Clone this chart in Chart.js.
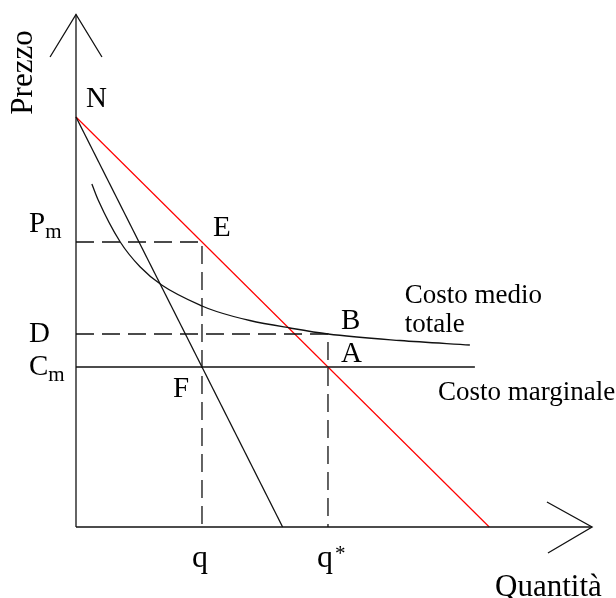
<!DOCTYPE html>
<html>
<head>
<meta charset="utf-8">
<script src="https://cdn.jsdelivr.net/npm/chart.js@4"></script>
<style>
  html, body { margin: 0; padding: 0; background: #fff; }
  #wrap { width: 616px; height: 598px; }
</style>
</head>
<body>
<div id="wrap"><canvas id="monopoly-chart"></canvas></div>
<script>
// Quantity / price levels of the monopoly diagram
const qMonopoly = 5;      // q
const qCompetitive = 10;  // q*
const priceMonopoly = 11.4;   // Pm
const avgCostAtQStar = 7.72;  // D
const marginalCost = 6.4;     // Cm

// Demand (red) and marginal revenue
const demandQ = [0, 16.4];
const demandP = [16.4, 0];
const revenueQ = [0, 8.2];
const revenueP = [16.4, 0];

// Average total cost curve, read point by point
const avgCostQ = [0.63, 0.88, 1.75, 2.54, 3.40, 5.0, 5.58, 6.90, 8.49, 10.0, 12.86, 15.63];
const avgCostP = [13.72, 13.08, 11.41, 10.41, 9.68, 8.84, 8.62, 8.26, 7.96, 7.72, 7.46, 7.28];

// Flat marginal cost runs out to here
const marginalCostEnd = 15.83;

// Axis lengths
const axisTopP = 20.5;
const axisRightQ = 20.48;

const pts = (xs, ys) => xs.map((x, i) => ({ x: x, y: ys[i] }));

function line(data, color, dash, width) {
  return {
    data: data,
    showLine: true,
    borderColor: color,
    borderWidth: width || 1.3,
    borderDash: dash || [],
    pointRadius: 0,
    fill: false,
    tension: 0
  };
}

const dashed = [18, 8];
const ink = '#111';

const datasets = [
  // axes with arrow heads
  line([{ x: 0, y: 0 }, { x: 0, y: axisTopP }], ink),
  line([{ x: -1.03, y: 18.8 }, { x: 0, y: axisTopP }, { x: 1.03, y: 18.8 }], ink),
  line([{ x: 0, y: 0 }, { x: axisRightQ, y: 0 }], ink),
  line([{ x: 18.69, y: 1.0 }, { x: axisRightQ, y: 0 }, { x: 18.73, y: -1.04 }], ink),
  // guide lines
  line([{ x: 0, y: priceMonopoly }, { x: qMonopoly, y: priceMonopoly }, { x: qMonopoly, y: 0 }], ink, dashed),
  line([{ x: 0, y: avgCostAtQStar }, { x: qCompetitive, y: avgCostAtQStar }, { x: qCompetitive, y: 0 }], ink, dashed),
  // marginal cost
  line([{ x: 0, y: marginalCost }, { x: marginalCostEnd, y: marginalCost }], ink),
  // marginal revenue
  line(pts(revenueQ, revenueP), ink),
  // average total cost
  Object.assign(line(pts(avgCostQ, avgCostP), ink), { cubicInterpolationMode: 'monotone' }),
  // demand
  line(pts(demandQ, demandP), '#ff0000', [], 1.2)
];

// Letters and captions, anchored on chart values with a pixel nudge
const labels = [
  { text: 'N', x: 0, y: 16.4, dx: 10, dy: -10 },
  { text: 'E', x: qMonopoly, y: priceMonopoly, dx: 11, dy: -6 },
  { text: 'B', x: qCompetitive, y: avgCostAtQStar, dx: 13, dy: -5 },
  { text: 'A', x: qCompetitive, y: marginalCost, dx: 13, dy: -5 },
  { text: 'F', x: qMonopoly, y: marginalCost, dx: -29, dy: 30 },
  { text: 'P', sub: 'm', x: 0, y: priceMonopoly, dx: -47, dy: -10 },
  { text: 'D', x: 0, y: avgCostAtQStar, dx: -47, dy: 8 },
  { text: 'C', sub: 'm', x: 0, y: marginalCost, dx: -47, dy: 8 },
  { text: 'q', x: qMonopoly, y: 0, dx: -10, dy: 40, size: 32 },
  { text: 'q', sup: '*', x: qCompetitive, y: 0, dx: -11, dy: 40, size: 32 },
  { text: 'Costo medio', x: 15.63, y: 7.28, dx: -65, dy: -42, size: 27 },
  { text: 'totale', x: 15.63, y: 7.28, dx: -65, dy: -13, size: 27 },
  { text: 'Costo marginale', x: marginalCostEnd, y: marginalCost, dx: -37, dy: 33, size: 27 },
  { text: 'Quantità', x: axisRightQ, y: 0, dx: -97, dy: 69, size: 31 }
];

const serif = "'Liberation Serif', 'Times New Roman', serif";

const labelPlugin = {
  id: 'diagramLabels',
  afterDatasetsDraw(chart) {
    const { ctx, scales } = chart;
    ctx.save();
    ctx.fillStyle = '#000';
    ctx.textBaseline = 'alphabetic';
    ctx.textAlign = 'left';
    labels.forEach(l => {
      const size = l.size || 29;
      const px = scales.x.getPixelForValue(l.x) + l.dx;
      const py = scales.y.getPixelForValue(l.y) + l.dy;
      ctx.font = size + 'px ' + serif;
      ctx.fillText(l.text, px, py);
      const w = ctx.measureText(l.text).width;
      if (l.sub) {
        ctx.font = '21px ' + serif;
        ctx.fillText(l.sub, px + w, py + 6);
      }
      if (l.sup) {
        ctx.font = '21px ' + serif;
        ctx.fillText(l.sup, px + w + 2, py - 7);
      }
    });
    // vertical axis title
    ctx.font = '31px ' + serif;
    ctx.translate(scales.x.getPixelForValue(0) - 52, scales.y.getPixelForValue(axisTopP) + 58);
    ctx.rotate(-Math.PI / 2);
    ctx.textAlign = 'center';
    ctx.textBaseline = 'middle';
    ctx.fillText('Prezzo', 0, 0);
    ctx.restore();
  }
};

const chart = new Chart(document.getElementById('monopoly-chart').getContext('2d'), {
  type: 'scatter',
  data: { datasets: datasets },
  options: {
    responsive: true,
    maintainAspectRatio: false,
    animation: false,
    layout: { padding: 0 },
    plugins: { legend: { display: false }, tooltip: { enabled: false } },
    scales: {
      x: { type: 'linear', min: -3.016, max: 21.43, display: false },
      y: { type: 'linear', min: -2.84, max: 21.08, display: false }
    }
  },
  plugins: [labelPlugin]
});
</script>
</body>
</html>
